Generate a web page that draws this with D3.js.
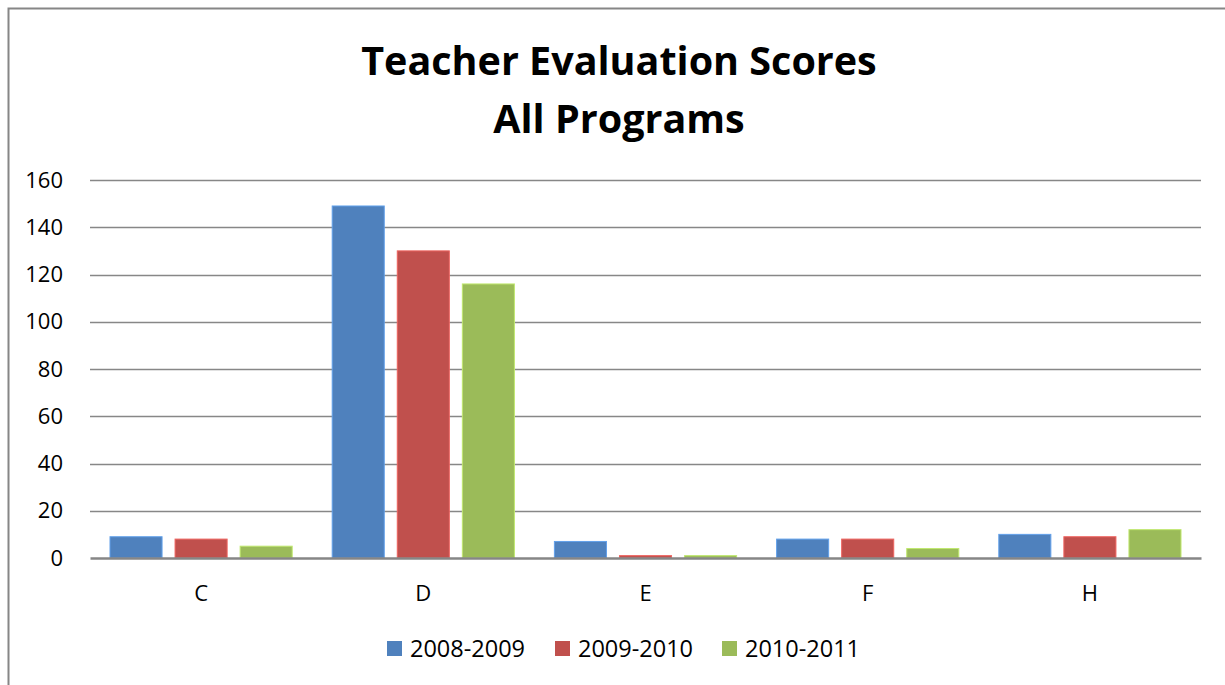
<!DOCTYPE html>
<html>
<head>
<meta charset="utf-8">
<script src="https://cdn.jsdelivr.net/npm/d3@7"></script>
<style>
  body { margin: 0; background: #fff; }
  svg { display: block; font-family: "Open Sans", "Noto Sans", sans-serif; }
</style>
</head>
<body>
<svg id="chart" width="1225" height="685"></svg>
<script>
// data
const categories = ["C", "D", "E", "F", "H"];
const seriesNames = ["2008-2009", "2009-2010", "2010-2011"];
const values2008 = [9, 149, 7, 8, 10];
const values2009 = [8, 130, 1, 8, 9];
const values2010 = [5, 116, 1, 4, 12];
const yTicks = [0, 20, 40, 60, 80, 100, 120, 140, 160];
const colors = ["#4F81BD", "#C0504D", "#9BBB59"];
const titleLines = ["Teacher Evaluation Scores", "All Programs"];

const svg = d3.select("#chart");
const margin = { top: 180, left: 90, right: 24, bottom: 127 };
const width = 1225, height = 685;
const innerWidth = width - margin.left - margin.right;
const innerHeight = height - margin.top - margin.bottom;

// outer frame (runs off the right and bottom edges)
svg.append("path")
    .attr("d", `M8.5,${height} V8.5 H${width}`)
    .attr("fill", "none")
    .attr("stroke", "#868686")
    .attr("stroke-width", 2);

// title
svg.append("g").selectAll("text")
    .data(titleLines)
    .enter()
    .append("text")
    .attr("x", 619)
    .attr("y", (d, i) => 75 + i * 58)
    .attr("text-anchor", "middle")
    .style("font-size", "39.5px")
    .style("font-weight", "bold")
    .text(d => d);

const g = svg.append("g").attr("transform", `translate(${margin.left}, ${margin.top})`);

const yScale = d3.scaleLinear().domain([0, 160]).range([innerHeight, 0]);
const xScale = d3.scaleBand().domain(categories).range([0, innerWidth]);
const xInner = d3.scaleBand().domain(seriesNames)
    .range([20, xScale.bandwidth() - 20])
    .paddingInner(0.2);

// gridlines
g.append("g")
    .selectAll("line")
    .data(yTicks.slice(1))
    .enter()
    .append("line")
    .attr("x1", 0).attr("x2", innerWidth)
    .attr("y1", d => Math.round(yScale(d)) + 0.5)
    .attr("y2", d => Math.round(yScale(d)) + 0.5)
    .attr("stroke", "#878787")
    .attr("stroke-width", 1.5);

// y labels
const yAxis = g.append("g")
    .call(d3.axisLeft(yScale).tickValues(yTicks).tickSize(0).tickPadding(27));
yAxis.select(".domain").remove();
yAxis.selectAll("text")
    .style("font-size", "22px")
    .style("font-family", "'Open Sans', sans-serif")
    .attr("fill", "#000");

// bars
const allSeries = [values2008, values2009, values2010];
const barData = [];
categories.forEach((c, ci) => {
    seriesNames.forEach((s, si) => {
        barData.push({ cat: c, series: s, value: allSeries[si][ci], color: colors[si] });
    });
});

g.append("g")
    .selectAll("rect")
    .data(barData)
    .enter()
    .append("rect")
    .attr("x", d => xScale(d.cat) + xInner(d.series))
    .attr("y", d => yScale(d.value))
    .attr("width", xInner.bandwidth())
    .attr("height", d => innerHeight - yScale(d.value))
    .attr("fill", d => d.color)
    .attr("stroke", d => d3.color(d.color).brighter(0.6))
    .attr("stroke-width", 1);

// x axis
const xAxis = g.append("g")
    .attr("transform", `translate(0,${innerHeight})`)
    .call(d3.axisBottom(xScale).tickSize(0).tickPadding(27));
xAxis.select(".domain")
    .attr("stroke", "#868686")
    .attr("stroke-width", 2.5);
xAxis.selectAll("text")
    .style("font-size", "22px")
    .style("font-family", "'Open Sans', sans-serif")
    .attr("fill", "#000");

// legend
const legendX = [387, 555, 722];
const legend = svg.append("g").selectAll("g")
    .data(seriesNames)
    .enter()
    .append("g")
    .attr("transform", (d, i) => `translate(${legendX[i]}, 641)`);
legend.append("rect")
    .attr("width", 15).attr("height", 15)
    .attr("fill", (d, i) => colors[i]);
legend.append("text")
    .attr("x", 23)
    .attr("y", 16)
    .style("font-size", "23.5px")
    .text(d => d);
</script>
</body>
</html>
